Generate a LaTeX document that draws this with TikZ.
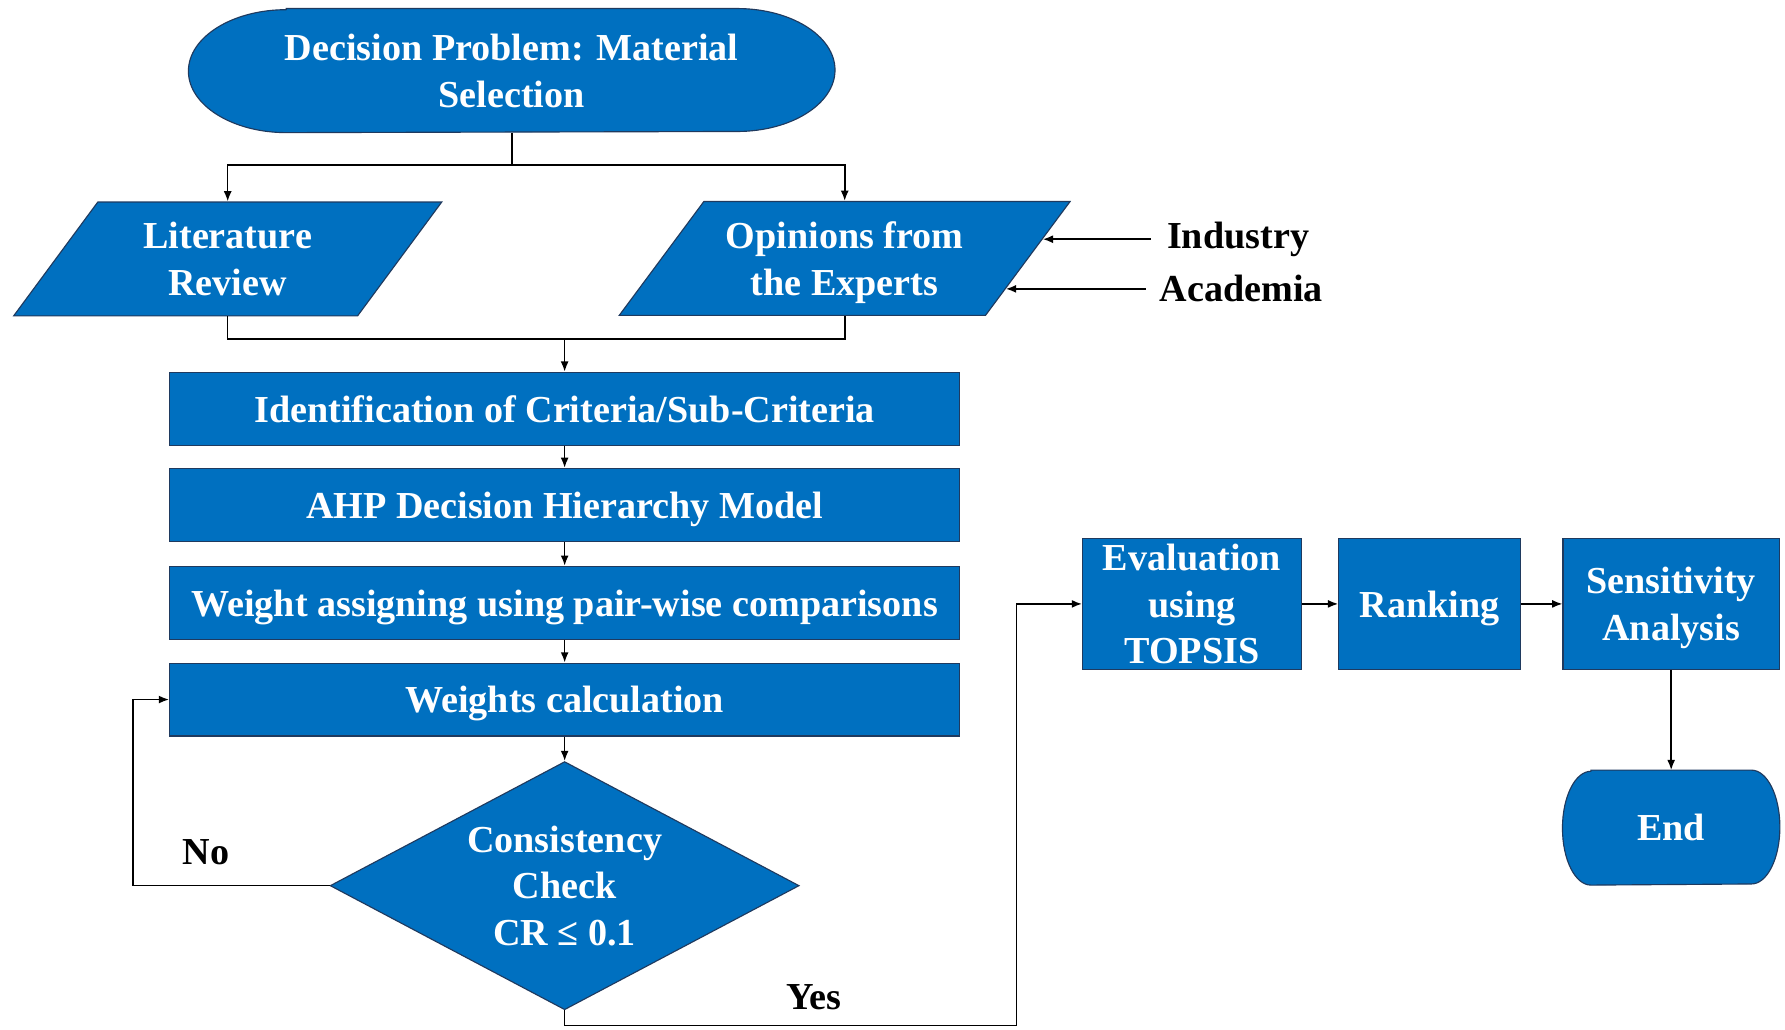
\documentclass[tikz,border=0pt]{standalone}
\usepackage{fontspec}
\setmainfont{Liberation Serif}
\usetikzlibrary{shapes.geometric,arrows.meta,backgrounds,calc}
\definecolor{flowblue}{HTML}{0070C0}
\definecolor{edgeblue}{HTML}{1F3A5F}
\begin{document}
\begin{tikzpicture}[x=1pt,y=-1pt,
  txt/.style={font=\fontsize{33.5}{41}\selectfont\bfseries},
  blk/.style={txt,text=white,fill=flowblue,draw=edgeblue,line width=1,inner sep=0,
    align=center,text depth=0pt},
  outline/.style={fill=flowblue,draw=edgeblue,line width=1},
  termtext/.style={blk,rectangle,fill=none,draw=none},
  procbox/.style={blk,rectangle,minimum width=694,minimum height=64},
  stepbox/.style={blk,rectangle,minimum height=115},
  io/.style={blk,trapezium,trapezium left angle=41,trapezium right angle=139,
    trapezium stretches body,minimum width=376,minimum height=100},
  decision/.style={blk,diamond,shape aspect=1.9,minimum width=412,minimum height=218},
  arr/.style={draw=black,line width=1.4,-{Latex[length=9,width=7]}},
  link/.style={draw=black,line width=1.4},
  tag/.style={txt,text=black,inner sep=1}
]
\useasboundingbox (0,0) rectangle (1568,904);

% terminators: text nodes, outlines with elliptic ends drawn behind them
\node[termtext,minimum width=567,minimum height=108] (start) at (449.5,62)
  {Decision Problem: Material\\Selection};
\node[termtext,minimum width=190,minimum height=100] (end) at (1468,727) {End};
\begin{scope}[on background layer]
  \path[outline]
    ([xshift=86pt]start.north west) -- ([xshift=-86pt]start.north east)
    arc[start angle=-90,end angle=90,x radius=86,y radius=54]
    -- ([xshift=86pt]start.south west)
    arc[start angle=90,end angle=270,x radius=86,y radius=54] -- cycle;
  \path[outline]
    ([xshift=25pt]end.north west) -- ([xshift=-25pt]end.north east)
    arc[start angle=-90,end angle=90,x radius=25,y radius=50]
    -- ([xshift=25pt]end.south west)
    arc[start angle=90,end angle=270,x radius=25,y radius=50] -- cycle;
\end{scope}

% inputs
\node[io] (lit) at (200,227.5) {Literature\\Review};
\node[io,minimum width=396] (op) at (742,227) {Opinions from\\the Experts};

% process chain
\node[procbox] (b1) at (496,359) {Identification of Criteria/Sub-Criteria};
\node[procbox] (b2) at (496,443.5) {AHP Decision Hierarchy Model};
\node[procbox] (b3) at (496,529.5) {Weight assigning using pair-wise comparisons};
\node[procbox] (b4) at (496,614.5) {Weights calculation};
\node[decision] (chk) at (496,778) {Consistency\\Check\\CR ≤ 0.1};

% right column
\node[stepbox,minimum width=192] (eval) at (1047,530.5) {Evaluation\\using\\TOPSIS};
\node[stepbox,minimum width=160] (rank) at (1256,530.5) {Ranking};
\node[stepbox,minimum width=190] (sens) at (1468,530.5) {Sensitivity\\Analysis};

% expert sources
\path (op.top right corner) -- (op.bottom right corner)
  coordinate[pos=0.333] (opI) coordinate[pos=0.765] (opA);
\node[tag,anchor=west] (ind) at ([xshift=108pt]opI) {Industry};
\node[tag,anchor=west] (aca) at ([xshift=134pt]opA) {Academia};
\draw[arr] ([xshift=-13pt]ind.west) -- (opI);
\draw[arr] ([xshift=-11pt]aca.west) -- (opA);

% connectors
\coordinate (split) at (449.5,145);
\draw[link] (start.south) -- (split);
\draw[arr] (split) -| (lit.north);
\draw[arr] (split) -| (op.north);

\coordinate (join) at (496,298);
\draw[link] (lit.south) |- (join);
\draw[link] (op.south) |- (join);
\draw[arr] (join) -- (b1.north);

\draw[arr] (b1.south) -- (b2.north);
\draw[arr] (b2.south) -- (b3.north);
\draw[arr] (b3.south) -- (b4.north);
\draw[arr] (b4.south) -- (chk.north);

\coordinate (noturn) at (117,778);
\draw[arr] (chk.west) -- (noturn) |- (b4.west);
\node[tag] (no) at (181,749) {No};

\coordinate (yesturn) at (893,901);
\draw[arr] (chk.south) |- (yesturn) |- (eval.west);
\node[tag] (yes) at (715,876) {Yes};

\draw[arr] (eval.east) -- (rank.west);
\draw[arr] (rank.east) -- (sens.west);
\draw[arr] (sens.south) -- (end.north);
\end{tikzpicture}
\end{document}
